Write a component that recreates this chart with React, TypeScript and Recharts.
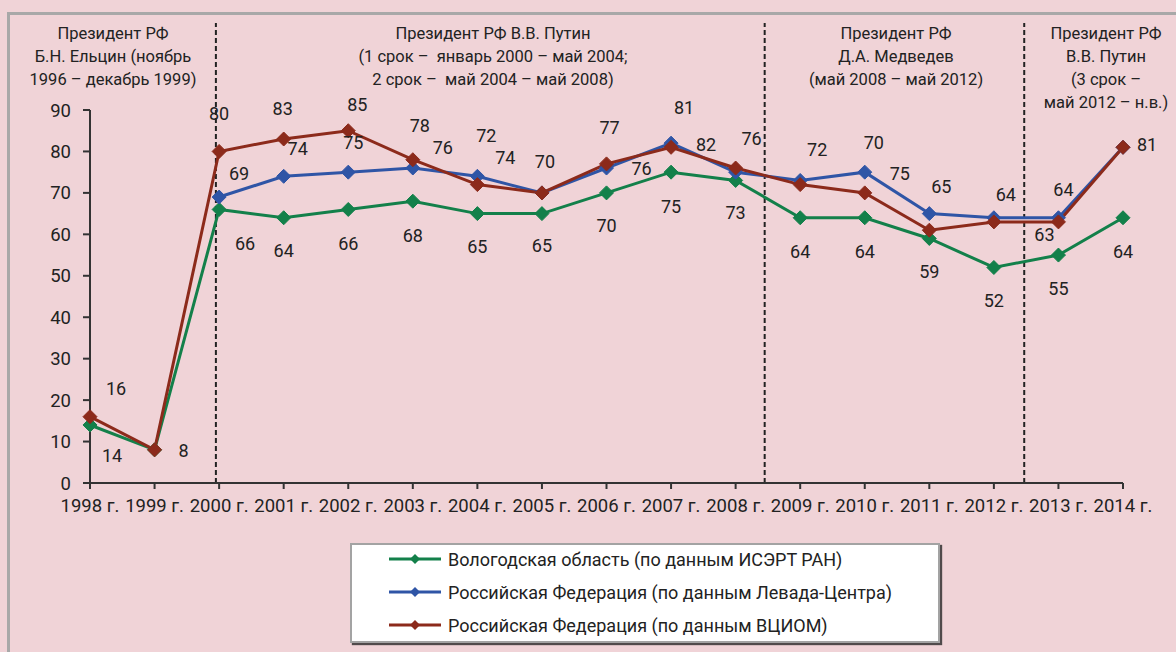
import React from 'react';
import { LineChart, Line, XAxis, YAxis, ReferenceLine, LabelList, Legend } from 'recharts';

// ---------- data ----------
const years = [1998, 1999, 2000, 2001, 2002, 2003, 2004, 2005, 2006, 2007, 2008, 2009, 2010, 2011, 2012, 2013, 2014];
const vologda = [14, 8, 66, 64, 66, 68, 65, 65, 70, 75, 73, 64, 64, 59, 52, 55, 64];
const levada = [null, null, 69, 74, 75, 76, 74, 70, 76, 82, 75, 73, 75, 65, 64, 64, 81];
const vciom = [16, 8, 80, 83, 85, 78, 72, 70, 77, 81, 76, 72, 70, 61, 63, 63, 81];
const yTicks = [0, 10, 20, 30, 40, 50, 60, 70, 80, 90];
const seriesNames = [
  'Вологодская область (по данным ИСЭРТ РАН)',
  'Российская Федерация (по данным Левада-Центра)',
  'Российская Федерация (по данным ВЦИОМ)',
];
const periodBounds = [1999.95, 2008.45, 2012.47];
const periodTexts = [
  ['Президент РФ', 'Б.Н. Ельцин (ноябрь', '1996 – декабрь 1999)'],
  ['Президент РФ В.В. Путин', '(1 срок –  январь 2000 – май 2004;', '2 срок –  май 2004 – май 2008)'],
  ['Президент РФ', 'Д.А. Медведев', '(май 2008 – май 2012)'],
  ['Президент РФ', 'В.В. Путин', '(3 срок –', 'май 2012 – н.в.)'],
];

// ---------- label placement (pixel offsets from point) ----------
type Off = [number, number] | null;
const vologdaOff: Off[] = [[22, 31], [29, 1], [26, 34], [0, 33], [0, 34], [0, 34], [0, 33], [0, 32], [0, 33], [0, 34], [0, 32], [0, 34], [0, 34], [0, 33], [0, 33], [0, 33], [0, 34]];
const levadaOff: Off[] = [null, null, [20, -24], [14, -28], [5, -30], [30, -21], [28, -19], null, [35, 0], [35, 1], null, null, [35, 1], [12, -27], [12, -23], [5, -28], null];
const vciomOff: Off[] = [[26, -28], null, [0, -38], [-1, -31], [9, -26], [7, -34], [9, -49], [3, -31], [3, -36], [13, -40], [16, -30], [17, -35], [9, -50], null, null, [-14, 13], [24, -3]];

// ---------- styles ----------
const FONT = 'Roboto, "Noto Sans", sans-serif';
const BG = '#F0D3D7';
const TXT = '#222';
const colors = ['#13804A', '#2F55A6', '#8C2A1B'];
const headerCenters = [113, 493, 896, 1106];

const data = years.map((y, i) => ({ year: y, vologda: vologda[i], levada: levada[i], vciom: vciom[i] }));

const makeLabel = (offsets: Off[]) => (props: any) => {
  const { x, y, value, index } = props;
  const off = offsets[index];
  if (value == null || !off || x == null || y == null) return null;
  return (
    <text x={x + off[0]} y={y + off[1]} textAnchor="middle" dominantBaseline="central" fontSize={18} fill={TXT} fontFamily={FONT}>
      {value}
    </text>
  );
};

const makeDot = (color: string) => (p: any) => {
  const { cx, cy, value, index } = p;
  if (cx == null || cy == null || value == null) return <g key={`e${index}`} />;
  const r = 7;
  return (
    <polygon key={`d${index}`} points={`${cx},${cy - r} ${cx + r},${cy} ${cx},${cy + r} ${cx - r},${cy}`} fill={color} stroke={color} strokeWidth={1} />
  );
};

const renderLegend = () => (
  <div
    style={{
      width: 586,
      height: 96,
      background: '#fff',
      border: '2px solid #A3A3A3',
      boxShadow: '2px 2px 1px rgba(40,40,40,0.8)',
      fontFamily: FONT,
      fontSize: 18,
      color: TXT,
      position: 'relative',
    }}
  >
    {seriesNames.map((n, i) => (
      <div key={n} style={{ position: 'absolute', left: 36, top: -1 + i * 33, height: 30, display: 'flex', alignItems: 'center' }}>
        <svg width={54} height={16} style={{ marginRight: 6 }}>
          <line x1={1} y1={8} x2={53} y2={8} stroke={colors[i]} strokeWidth={3} />
          <polygon points="27,3 32,8 27,13 22,8" fill={colors[i]} />
        </svg>
        <span style={{ whiteSpace: 'pre' }}>{n}</span>
      </div>
    ))}
  </div>
);

export default function App() {
  return (
    <div style={{ position: 'absolute', left: 0, top: 0, width: 1176, height: 652, background: BG, overflow: 'hidden' }}>
      <div style={{ position: 'absolute', left: 7, top: 12, width: 1300, height: 800, borderTop: '3px solid #A8A8A8', borderLeft: '3px solid #A8A8A8' }} />
      {periodTexts.map((lines, k) => (
        <div
          key={k}
          style={{
            position: 'absolute',
            left: headerCenters[k] - 150,
            top: 22,
            width: 300,
            textAlign: 'center',
            fontFamily: FONT,
            fontSize: 16.5,
            lineHeight: '23px',
            color: TXT,
            whiteSpace: 'pre',
          }}
        >
          {lines.map((l, j) => (
            <div key={j}>{l}</div>
          ))}
        </div>
      ))}
      <div style={{ position: 'absolute', left: 0, top: 0 }}>
        <LineChart width={1176} height={652} data={data} margin={{ top: 110, right: 53, bottom: 129, left: 0 }} style={{ fontFamily: FONT }}>
          <XAxis
            type="number"
            dataKey="year"
            domain={[1998, 2014]}
            ticks={years}
            interval={0}
            tickFormatter={(v: number) => `${v} г.`}
            tickSize={6}
            tickMargin={10}
            height={40}
            axisLine={{ stroke: '#333', strokeWidth: 2 }}
            tickLine={{ stroke: '#333', strokeWidth: 2 }}
            tick={{ fill: TXT, fontSize: 18.5, fontFamily: FONT }}
          />
          <YAxis
            type="number"
            domain={[0, 90]}
            ticks={yTicks}
            interval={0}
            width={90}
            tickSize={7}
            tickMargin={12}
            axisLine={{ stroke: '#333', strokeWidth: 2 }}
            tickLine={{ stroke: '#333', strokeWidth: 2 }}
            tick={{ fill: TXT, fontSize: 18.5, fontFamily: FONT }}
          />
          {periodBounds.map((b) => (
            <ReferenceLine
              key={b}
              segment={[{ x: b, y: 0 }, { x: b, y: 111 }]}
              ifOverflow="visible"
              stroke="#222"
              strokeWidth={2}
              strokeDasharray="5 3"
            />
          ))}
          <Line dataKey="vologda" name={seriesNames[0]} stroke={colors[0]} strokeWidth={3} dot={makeDot(colors[0])} activeDot={false} isAnimationActive={false}>
            <LabelList dataKey="vologda" content={makeLabel(vologdaOff)} />
          </Line>
          <Line dataKey="levada" name={seriesNames[1]} stroke={colors[1]} strokeWidth={3} dot={makeDot(colors[1])} activeDot={false} isAnimationActive={false}>
            <LabelList dataKey="levada" content={makeLabel(levadaOff)} />
          </Line>
          <Line dataKey="vciom" name={seriesNames[2]} stroke={colors[2]} strokeWidth={3} dot={makeDot(colors[2])} activeDot={false} isAnimationActive={false}>
            <LabelList dataKey="vciom" content={makeLabel(vciomOff)} />
          </Line>
          <Legend
            layout="horizontal"
            verticalAlign="middle"
            align="center"
            width={590}
            wrapperStyle={{ position: 'absolute', left: 350, top: 543, width: 590, height: 100 }}
            content={renderLegend}
          />
        </LineChart>
      </div>
    </div>
  );
}
